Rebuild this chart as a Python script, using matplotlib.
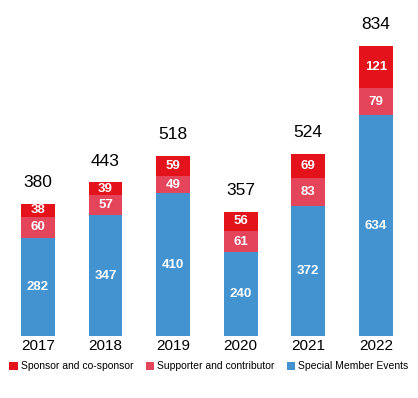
import numpy as np
import matplotlib.pyplot as plt

plt.rcParams['font.family'] = ['Liberation Sans', 'DejaVu Sans']

years = ['2017', '2018', '2019', '2020', '2021', '2022']
special = [282, 347, 410, 240, 372, 634]
supporter = [60, 57, 49, 61, 83, 79]
sponsor = [38, 39, 59, 56, 69, 121]
totals = [380, 443, 518, 357, 524, 834]

c_blue = '#4493d1'
c_pink = '#e5455a'
c_red = '#e3121b'

fig = plt.figure(figsize=(4.18, 3.98), dpi=100)
ax = fig.add_axes([0.01, 0.156, 0.97, 0.80])

x = np.arange(len(years))
w = 0.5
special = np.array(special)
supporter = np.array(supporter)
sponsor = np.array(sponsor)

ax.bar(x, special, w, color=c_blue, label='Special Member Events')
ax.bar(x, supporter, w, bottom=special, color=c_pink, label='Supporter and contributor')
ax.bar(x, sponsor, w, bottom=special + supporter, color=c_red, label='Sponsor and co-sponsor')

# labels inside the segments
for i in range(len(years)):
    ax.text(x[i], special[i] / 2, str(special[i]), ha='center', va='center',
            color='white', fontsize=9.5, fontweight='bold')
    ax.text(x[i], special[i] + supporter[i] / 2, str(supporter[i]), ha='center',
            va='center', color='white', fontsize=9.5, fontweight='bold')
    ax.text(x[i], special[i] + supporter[i] + sponsor[i] / 2, str(sponsor[i]),
            ha='center', va='center', color='white', fontsize=9.5, fontweight='bold')
    top = special[i] + supporter[i] + sponsor[i]
    ax.text(x[i], top + 38, str(totals[i]), ha='center', va='bottom',
            color='black', fontsize=12.5)

ax.set_xlim(-0.5, len(years) - 0.5)
ax.set_ylim(0, 915)
ax.set_xticks(x)
ax.set_xticklabels(years, fontsize=11)
ax.tick_params(axis='x', length=0, pad=2)
ax.set_yticks([])
for s in ax.spines.values():
    s.set_visible(False)

handles, labels = ax.get_legend_handles_labels()
fig.legend(handles[::-1], labels[::-1], loc='center', bbox_to_anchor=(0.5, 0.08),
           ncol=3, frameon=False, fontsize=7.5, handlelength=0.8, handleheight=0.8,
           handletextpad=0.3, columnspacing=1.2)

fig.savefig('out.png', dpi=100)
